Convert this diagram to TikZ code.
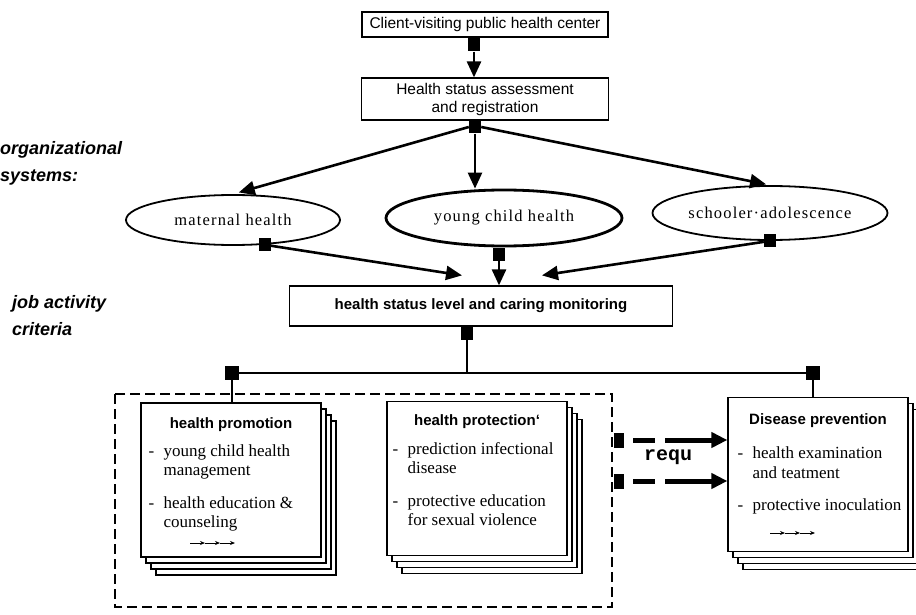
\documentclass[tikz,border=0pt]{standalone}
\usepackage{fontspec}
\setmainfont{Liberation Serif}
\setsansfont{Liberation Sans}
\setmonofont{Liberation Mono}
\newfontfamily\spacedserif[LetterSpace=7]{Liberation Serif}
\usetikzlibrary{arrows.meta, positioning, shapes.geometric}
\newcommand{\dashit}{-\hspace{0.55em}}
\newcommand{\dashpad}{\phantom{-}\hspace{0.55em}}

\begin{document}
\begin{tikzpicture}[x=1pt, y=-1pt,
  box/.style={draw=black, fill=white, line width=1.2pt, inner sep=0pt, align=center, font=\sffamily\fontsize{15.5}{18}\selectfont},
  oval/.style={ellipse, draw=black, line width=1.8pt, inner sep=0pt, font=\spacedserif\fontsize{16.5}{18}\selectfont},
  sq/.style={fill=black, inner sep=0pt, minimum width=12pt, minimum height=13pt},
  arr/.style={line width=2.6pt, -{Triangle[length=16pt, width=14pt]}},
  link/.style={line width=2.8pt},
  sheet/.style={draw=black, fill=white, line width=1.2pt, inner sep=0pt, minimum width=180pt, minimum height=154pt},
  head/.style={inner sep=0pt, font=\sffamily\bfseries\fontsize{15}{17}\selectfont},
  body/.style={inner sep=0pt, align=left, font=\fontsize{17}{19.5}\selectfont},
  side/.style={inner sep=0pt, anchor=west, align=left, font=\sffamily\bfseries\itshape\fontsize{18}{27}\selectfont},
  glyph/.style={line width=0.8pt, -{Stealth[length=5pt, width=4pt]}},
  reqarr/.style={line width=5pt, dash pattern=on 0pt off 9pt on 22pt off 10pt on 300pt, -{Triangle[length=16pt, width=15pt]}}
]

\useasboundingbox (0,0) rectangle (916,615);

% Napisy z lewej
\node[side] (orgsys) at (0,163) {organizational\\systems:};
\node[side] (jobcrit) at (12,316) {job activity\\criteria};

% Prostokąty u góry
\node[box, minimum width=246pt, minimum height=25pt] (client) at (485,24.5) {Client-visiting public health center};
\node[box, minimum width=247pt, minimum height=42pt] (assess) at (485,99) {Health status assessment\\and registration};
\node[sq] (s1) at (474,45) {};
\node[sq] (s2) at (475,127) {};
\draw[arr] (s1.south) -- (s1.south |- assess.north);

% Elipsy
\node[oval, minimum width=214pt, minimum height=50pt] (maternal) at (233,220) {maternal health};
\node[oval, line width=2.8pt, minimum width=236pt, minimum height=56pt] (young) at (504,218) {young child health};
\node[oval, minimum width=235pt, minimum height=54pt] (school) at (770,213) {schooler·adolescence};

\draw[arr, shorten >=6pt] (s2.west) -- (maternal.north);
\draw[arr] (s2.south) -- (s2.south |- young.north);
\draw[arr, shorten >=4pt] (s2.east) -- (school.north);

\node[sq] (ms) at (maternal.-38) {};
\node[sq, anchor=north] (ys) at ([xshift=-5pt]young.south) {};
\node[sq] (ss) at (school.south) {};

% Monitoring
\node[box, font=\sffamily\bfseries\fontsize{15}{17}\selectfont, minimum width=383pt, minimum height=40pt] (monitor) at (481,306) {health status level and caring monitoring};
\coordinate (ml) at ([xshift=-19pt, yshift=10pt]monitor.north);
\coordinate (mr) at ([xshift=61pt, yshift=10pt]monitor.north);
\draw[arr] (ms) -- (ml);
\draw[arr] (ys.south) -- (ys.south |- monitor.north);
\draw[arr] (ss) -- (mr);

% Szyna
\node[sq, anchor=north] (mq) at ([xshift=-14pt]monitor.south) {};
\node[sq, minimum width=14pt, minimum height=14pt] (bl) at (232,373) {};
\node[sq, minimum width=14pt, minimum height=14pt] (br) at (813,373) {};
\draw[link] (bl) -- (br);
\draw[link] (mq.south) -- (mq.south |- bl.center);

% Ramka
\draw[line width=1.8pt, dash pattern=on 10pt off 5pt] (115,394) rectangle (612,607);

% Stosy kartek
\foreach \k in {3,2,1} {
  \node[sheet] (promo\k) at (231+5*\k, 480+6*\k) {};
  \node[sheet] (protect\k) at (477+5*\k, 478.5+6*\k) {};
  \node[sheet] (prevent\k) at (818+5*\k, 474.5+6*\k) {};
}
\node[sheet] (promo) at (231,480) {};
\node[sheet] (protect) at (477,478.5) {};
\node[sheet] (prevent) at (818,474.5) {};

\draw[link] (bl.south) -- (bl.south |- promo.north);
\draw[link] (br.south) -- (br.south |- prevent.north);

\node[head, below=15pt of promo.north] (promoh) {health promotion};
\node[head, below=14pt of protect.north] (protecth) {health protection‘};
\node[head, below=17pt of prevent.north] (preventh) {Disease prevention};

\node[body, anchor=north west] (promob) at ([xshift=8pt, yshift=-42pt]promo.north west)
  {\dashit young child health\\\dashpad management\\[13pt]\dashit health education \&\\\dashpad counseling};
\node[body, anchor=north west] (protectb) at ([xshift=6pt, yshift=-41pt]protect.north west)
  {\dashit prediction infectional\\\dashpad disease\\[13pt]\dashit protective education\\\dashpad for sexual violence};
\node[body, anchor=north west] (preventb) at ([xshift=10pt, yshift=-50pt]prevent.north west)
  {\dashit health examination\\\dashpad and teatment\\[13pt]\dashit protective inoculation};

\foreach \k in {0,1,2} {
  \draw[glyph] (190+15*\k,543) -- ++(15,0);
  \draw[glyph] (770+15*\k,533) -- ++(15,0);
}

% Strzałki requ
\node[sq, minimum width=10pt, minimum height=15pt] (r1) at (619,440) {};
\node[sq, minimum width=10pt, minimum height=15pt] (r2) at (619,481) {};
\draw[reqarr] (r1.east) -- (r1.east -| prevent.west);
\draw[reqarr] (r2.east) -- (r2.east -| prevent.west);
\node[font=\ttfamily\bfseries\fontsize{20}{22}\selectfont, inner sep=0pt] (requ) at (668,457) {requ};

\end{tikzpicture}
\end{document}
